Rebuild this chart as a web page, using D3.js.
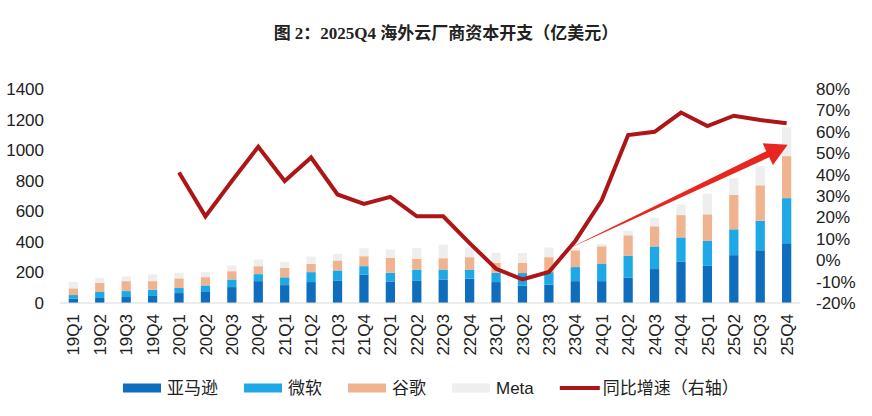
<!DOCTYPE html>
<html>
<head>
<meta charset="utf-8">
<script src="https://cdn.jsdelivr.net/npm/d3@7"></script>
<style>
body { margin: 0; background: #fff; }
text { font-family: "Liberation Sans", Arial, "Noto Sans CJK SC", sans-serif; fill: #222; }
</style>
</head>
<body>
<div id="chart"></div>
<script>
// quarters on the x axis
var quarters = ["19Q1","19Q2","19Q3","19Q4","20Q1","20Q2","20Q3","20Q4",
  "21Q1","21Q2","21Q3","21Q4","22Q1","22Q2","22Q3","22Q4",
  "23Q1","23Q2","23Q3","23Q4","24Q1","24Q2","24Q3","24Q4",
  "25Q1","25Q2","25Q3","25Q4"]

// capex, 亿美元
var amazon    = [28,33,39,46,65,72,104,143,117,137,148,185,141,148,154,159,137,113,120,143,143,167,222,272,243,313,345,391]
var microsoft = [24,39,39,41,33,43,50,46,51,65,65,56,57,71,65,60,61,83,82,92,112,141,148,157,163,169,193,295]
var google    = [44,60,65,56,63,54,54,52,62,54,65,65,98,70,74,81,65,66,98,110,116,135,132,146,174,225,232,275]
var meta      = [41,31,31,44,37,33,37,43,39,48,44,52,54,72,89,65,65,65,63,15,15,30,55,70,135,110,125,190]

// yoy growth %, starts at 20Q1
var growthQuarters = quarters.slice(4)
var growth = [41,20.5,37,53,37,48,30.7,26.3,29.6,20.5,20.5,8,-4,-9,-5.5,9,28,58.5,60,69,62.7,67.5,65.5,64]

var leftTicks = [0,200,400,600,800,1000,1200,1400]
var rightTicks = [-20,-10,0,10,20,30,40,50,60,70,80]

var seriesNames = ["亚马逊","微软","谷歌","Meta"]
var lineName = "同比增速（右轴）"
var colors = ["#0f6dbd","#1fa8e6","#f0b38f","#eeeeee"]
var lineColor = "#ad1517"
var arrowColor = "#e8261f"

var W = 872, H = 416
var margin = {top: 89, right: 72, bottom: 113, left: 60}
var width = W - margin.left - margin.right,
    height = H - margin.top - margin.bottom

var svg = d3.select("#chart").append("svg")
  .attr("width", W).attr("height", H)

// title
svg.append("text")
  .attr("x", 446).attr("y", 39)
  .attr("text-anchor", "middle")
  .style("font-family", '"Liberation Serif", "Noto Sans CJK SC", serif')
  .style("font-weight", "bold")
  .style("font-size", "17px")
  .text("图 2：2025Q4 海外云厂商资本开支（亿美元）")

var g = svg.append("g")
  .attr("transform", "translate(" + margin.left + "," + margin.top + ")")

var x = d3.scaleBand().domain(quarters).range([0, width]).paddingInner(0.65).paddingOuter(0.33)
var yL = d3.scaleLinear().domain([0, 1400]).range([height, 0])
var yR = d3.scaleLinear().domain([-20, 80]).range([height, 0])

// stacked bars
var rows = quarters.map(function (q, i) {
  return {q: q, a: amazon[i], m: microsoft[i], g: google[i], me: meta[i]}
})
var stack = d3.stack().keys(["a","m","g","me"])(rows)

g.selectAll(".layer")
  .data(stack)
  .enter().append("g")
    .attr("fill", function (d, i) { return colors[i] })
  .selectAll("rect")
  .data(function (d) { return d })
  .enter().append("rect")
    .attr("x", function (d) { return x(d.data.q) })
    .attr("width", x.bandwidth())
    .attr("y", function (d) { return yL(d[1]) })
    .attr("height", function (d) { return yL(d[0]) - yL(d[1]) })

// base line
g.append("line")
  .attr("x1", 0).attr("x2", width)
  .attr("y1", height).attr("y2", height)
  .attr("stroke", "#d9d9d9").attr("stroke-width", 1)

// left axis
var axL = g.append("g").call(d3.axisLeft(yL).tickValues(leftTicks).tickSize(0).tickPadding(16)
  .tickFormat(d3.format("d")))
axL.select(".domain").remove()
axL.selectAll("text").style("font-size", "17px").style("fill", "#222")
  .style("font-family", '"Liberation Sans", Arial, sans-serif')

// right axis
var axR = g.append("g").attr("transform", "translate(" + width + ",0)")
  .call(d3.axisRight(yR).tickValues(rightTicks).tickSize(0).tickPadding(16)
    .tickFormat(function (d) { return d + "%" }))
axR.select(".domain").remove()
axR.selectAll("text").style("font-size", "17px").style("fill", "#222")
  .style("font-family", '"Liberation Sans", Arial, sans-serif')

// x labels, rotated
g.append("g").selectAll("text")
  .data(quarters)
  .enter().append("text")
    .attr("transform", function (d) {
      return "translate(" + (x(d) + x.bandwidth() / 2) + "," + (height + 11) + ") rotate(-90)"
    })
    .attr("text-anchor", "end")
    .attr("dy", "0.36em")
    .style("font-size", "17px")
    .text(function (d) { return d })

// growth line
var line = d3.line()
  .x(function (d, i) { return x(growthQuarters[i]) + x.bandwidth() / 2 })
  .y(function (d) { return yR(d) })

g.append("path")
  .datum(growth)
  .attr("fill", "none")
  .attr("stroke", lineColor)
  .attr("stroke-width", 4)
  .attr("stroke-linejoin", "miter")
  .attr("d", line)

// red trend arrow, from 23Q4 bar top to 25Q4
var i0 = quarters.indexOf("23Q4")
var x0 = x("23Q4") - 4, y0 = yL(amazon[i0] + microsoft[i0] + google[i0] + 5)
var x1 = x("25Q4") + x.bandwidth() / 2 + 1, y1 = yL(1035)
var dx = x1 - x0, dy = y1 - y0, len = Math.sqrt(dx * dx + dy * dy)
var ux = dx / len, uy = dy / len, nx = -uy, ny = ux
var headLen = 22, headW = 12, shaftW = 3.4
var bx = x1 - ux * headLen, by = y1 - uy * headLen
var pts = [
  [x0, y0],
  [bx + nx * shaftW, by + ny * shaftW],
  [bx + nx * headW, by + ny * headW],
  [x1, y1],
  [bx - nx * headW, by - ny * headW],
  [bx - nx * shaftW, by - ny * shaftW]
]
g.append("path")
  .attr("d", "M" + pts.map(function (p) { return p.join(",") }).join("L") + "Z")
  .attr("fill", arrowColor)

// legend
var legend = svg.append("g").attr("transform", "translate(123,388)")
var lx = 0
seriesNames.concat([lineName]).forEach(function (name, i) {
  var item = legend.append("g").attr("transform", "translate(" + lx + ",0)")
  if (i < 4) {
    item.append("rect").attr("x", 0).attr("y", -4.5).attr("width", 38).attr("height", 9)
      .attr("fill", colors[i])
  } else {
    item.append("line").attr("x1", 0).attr("x2", 40).attr("y1", 0).attr("y2", 0)
      .attr("stroke", lineColor).attr("stroke-width", 4)
  }
  var t = item.append("text")
    .attr("x", i < 4 ? 44 : 43).attr("dy", "0.36em")
    .style("font-size", "17px")
    .style("font-family", '"Liberation Sans", "Noto Sans CJK SC", sans-serif')
    .text(name)
  lx += (i < 4 ? 44 : 43) + t.node().getComputedTextLength() + 26
})
</script>
</body>
</html>
